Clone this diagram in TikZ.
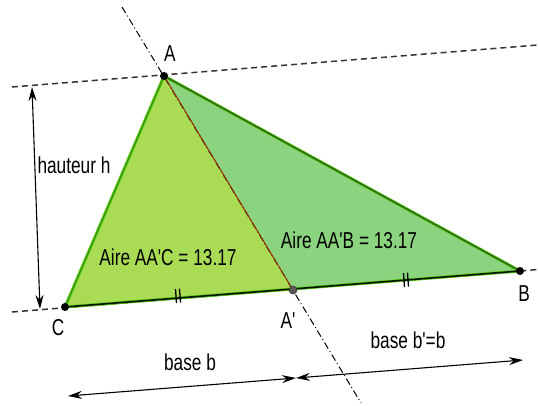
\documentclass[tikz,border=0pt]{standalone}
\usepackage{fontspec}
\newfontfamily\geo[FakeStretch=0.75]{Liberation Sans}
\usetikzlibrary{arrows.meta,calc}
\definecolor{fillC}{HTML}{A9DB54}
\definecolor{fillB}{HTML}{8BD37E}
\definecolor{edgeG}{HTML}{55CC11}
\definecolor{edgeD}{HTML}{2F6E14}
\definecolor{brownL}{HTML}{993300}
\tikzset{
  lbl/.style={font=\geo\fontsize{23}{25}\selectfont, inner sep=0pt, text=black},
  pt/.style={circle, fill=black, inner sep=0pt, minimum size=8pt},
  ptg/.style={circle, fill=black!65, draw=black!80, line width=0.6pt, inner sep=0pt, minimum size=8pt},
  dashline/.style={black!80, line width=1.5pt, dash pattern=on 6pt off 4pt},
  dashdot/.style={black, line width=1pt, dash pattern=on 7pt off 3pt on 1pt off 3pt},
  dim/.style={black, line width=1.1pt, {Stealth[length=14pt,width=8pt]}-{Stealth[length=14pt,width=8pt]}},
  tick/.style={black, line width=1.3pt}
}
\begin{document}
\begin{tikzpicture}[x=1pt,y=-1pt]
\useasboundingbox (0,0) rectangle (538,406);
\coordinate (A) at (164,76);
\coordinate (B) at (520,271);
\coordinate (C) at (65,307);
\coordinate (Ap) at (293,290);
% extension points
\coordinate (TL) at (12,87);
\coordinate (TR) at (538,45);
\coordinate (BL) at (12,312);
\coordinate (BR) at (538,269.5);
\coordinate (DT) at (122,7);
\coordinate (DB) at (361,403);
% fills
\fill[fillB] (A) -- (Ap) -- (B) -- cycle;
\fill[fillC] (A) -- (Ap) -- (C) -- cycle;
% dashed lines
\draw[dashline] (TL) -- (TR);
\draw[dashline] (BL) -- (BR);
\draw[dashdot] (DT) -- (DB);
% edges
\draw[edgeG, line width=3pt] (A) -- (C);
\draw[edgeD!70!edgeG, line width=1pt] (A) -- (C);
\draw[edgeG, line width=3pt, line join=round] (A) -- (B) -- (C);
\draw[edgeD, line width=1.6pt] (A) -- (B);
\draw[black!85!edgeD, line width=1.6pt] (C) -- (B);
\draw[brownL, line width=1pt] (A) -- (Ap);
% ticks
\draw[tick] (175.5,289) -- (176.5,303);
\draw[tick] (179.5,288.6) -- (180.5,302.6);
\draw[tick] (403.5,273) -- (404.5,287);
\draw[tick] (407.5,272.6) -- (408.5,286.6);
% height arrow
\coordinate (H1) at (32,87);
\coordinate (H2) at (40,309);
\draw[dim] (H1) -- (H2);
% base arrows
\coordinate (M1) at (68,396);
\coordinate (M2) at (296,378);
\coordinate (M3) at (523,360);
\draw[dim] (M1) -- (M2);
\draw[dim] (M2) -- (M3);
% points
\node[pt] (pA) at (A) {};
\node[pt] (pB) at (B) {};
\node[pt] (pC) at (C) {};
\node[ptg] (pAp) at (Ap) {};
% labels
\node[lbl] (lA) at (170,54) {A};
\node[lbl] (lB) at (524,294) {B};
\node[lbl] (lC) at (58,328) {C};
\node[lbl] (lAp) at (288,321) {A'};
\node[lbl] (lh) at (74,165) {hauteur h};
\node[lbl] (lAC) at (168,257) {Aire AA'C = 13.17};
\node[lbl] (lAB) at (349,240) {Aire AA'B = 13.17};
\node[lbl] (lb) at (190,362) {base b};
\node[lbl] (lbp) at (408,340) {base b'=b};
\end{tikzpicture}
\end{document}
